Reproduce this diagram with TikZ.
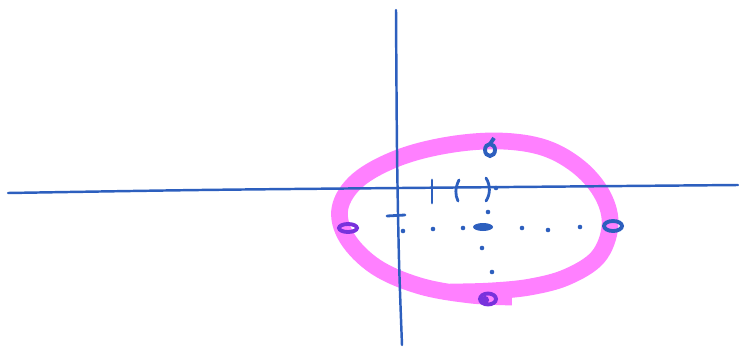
\documentclass[tikz,border=0pt]{standalone}
\usetikzlibrary{positioning}
\definecolor{penblue}{RGB}{45,95,190}
\definecolor{penpink}{RGB}{255,128,255}
\definecolor{penpurple}{RGB}{120,50,220}

\begin{document}
\begin{tikzpicture}[
    x=0.02cm, y=-0.02cm,
    axis/.style={
        draw=penblue,
        line width=1.4pt,
        line cap=round
    },
    loopstroke/.style={
        draw=penpink,
        line width=9.5pt,
        line cap=butt,
        line join=round
    },
    tickmark/.style={
        draw=penblue,
        line width=1.6pt,
        line cap=round
    },
    ring/.style={
        line width=2.2pt
    }
]
\useasboundingbox (0,0) rectangle (739,348);

% ============================================================
% PINK LOOP
% ============================================================

\draw[loopstroke] plot[smooth, tension=0.6] coordinates {
    (512,297) (470,295) (420,286) (376,267) (347,238) (340,208)
    (358,180) (398,158) (448,145) (500,141) (545,148) (580,168)
    (603,196) (610,226) (598,257) (567,277) (530,287) (490,291) (450,292)};

% ============================================================
% AXES
% ============================================================

\draw[axis] plot[smooth] coordinates {(8,193) (200,190) (400,188) (738,185)};
\draw[axis] plot[smooth] coordinates {(396,10) (397,150) (399,260) (402,345)};

% ============================================================
% TICKS AND DOTS
% ============================================================

\draw[tickmark] (432,180) -- (432,203);
\draw[tickmark] (459,180) .. controls (455,188) and (455,195) .. (458,201);
\draw[tickmark] (486,178) .. controls (491,186) and (490,195) .. (486,201);
\draw[tickmark] (387,216) -- (405,215);

\foreach \px/\py in {403/231, 433/229, 463/228, 522/228, 548/230, 580/227,
                     488/212, 482/248, 492/272, 496/188}
    \fill[penblue] (\px,\py) circle[radius=1.3pt];

% ============================================================
% MARKED POINTS
% ============================================================

\fill[penblue] (483,227) ellipse[x radius=0.2cm, y radius=0.08cm];
\draw[ring, penblue] (613,226) ellipse[x radius=0.18cm, y radius=0.1cm];
\draw[ring, penblue] (490,150) ellipse[x radius=0.1cm, y radius=0.12cm];
\draw[ring, penblue] (490,144) -- (494,138);
\draw[ring, penpurple] (348,228) ellipse[x radius=0.18cm, y radius=0.08cm];
\draw[ring, penpurple] (488,299) ellipse[x radius=0.16cm, y radius=0.11cm];
\draw[ring, penpurple] (485,300) circle[radius=0.04cm];

\end{tikzpicture}
\end{document}
